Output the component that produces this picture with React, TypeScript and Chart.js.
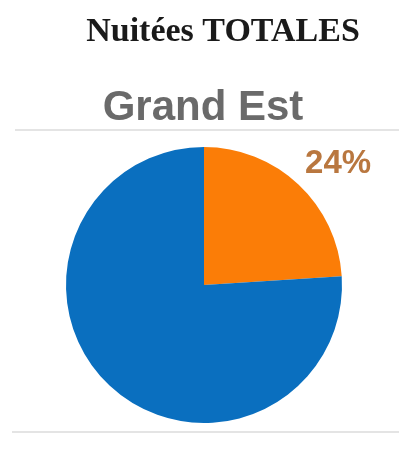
import React, { useEffect, useRef } from "react";
import { Chart, registerables } from "chart.js";

Chart.register(...registerables);

const chartTitle = "Nuitées TOTALES";
const regionName = "Grand Est";
const categories = ["Part A", "Part B"];
const shares = [24, 76];
const sliceColors = ["#fb7d07", "#0a6fbf"];
const shownLabels = ["24%", ""];

const W = 399;
const H = 449;

export default function App() {
  const ref = useRef<HTMLCanvasElement | null>(null);

  useEffect(() => {
    document.body.style.margin = "0";
    const canvas = ref.current;
    if (!canvas) return;

    const decor = {
      id: "decor",
      beforeDraw(chart: any) {
        const ctx = chart.ctx;
        ctx.save();
        ctx.fillStyle = "#ffffff";
        ctx.fillRect(0, 0, W, H);
        ctx.strokeStyle = "#e4e4e4";
        ctx.lineWidth = 2;
        ctx.beginPath();
        ctx.moveTo(15, 130);
        ctx.lineTo(W, 130);
        ctx.moveTo(12, 432);
        ctx.lineTo(W, 432);
        ctx.stroke();
        ctx.textAlign = "center";
        ctx.textBaseline = "alphabetic";
        ctx.fillStyle = "#1a1a1a";
        ctx.font = "bold 34px 'Liberation Serif', serif";
        ctx.fillText(chartTitle, 223, 41);
        ctx.fillStyle = "#6a6a6a";
        ctx.font = "bold 42px 'Liberation Sans', Arial, sans-serif";
        ctx.fillText(regionName, 203, 120);
        ctx.restore();
      },
      afterDatasetsDraw(chart: any) {
        const ctx = chart.ctx;
        const meta = chart.getDatasetMeta(0);
        ctx.save();
        ctx.font = "bold 33px 'Liberation Sans', Arial, sans-serif";
        ctx.textAlign = "center";
        ctx.textBaseline = "middle";
        meta.data.forEach((arc: any, i: number) => {
          const txt = shownLabels[i];
          if (!txt) return;
          const mid = (arc.startAngle + arc.endAngle) / 2;
          const x = arc.x + Math.cos(mid) * arc.outerRadius * 1.42;
          const y = arc.y + Math.sin(mid) * arc.outerRadius * 1.2;
          ctx.fillStyle = "#b9773f";
          ctx.fillText(txt, x, y);
        });
        ctx.restore();
      },
    };

    const chart = new Chart(canvas, {
      type: "pie",
      data: {
        labels: categories,
        datasets: [
          {
            data: shares,
            backgroundColor: sliceColors,
            borderWidth: 0,
          },
        ],
      },
      options: {
        responsive: false,
        animation: false,
        layout: { padding: { left: 66, right: 57, top: 147, bottom: 26 } },
        plugins: {
          legend: { display: false },
          title: { display: false },
          tooltip: { enabled: false },
        },
      },
      plugins: [decor],
    });
    return () => chart.destroy();
  }, []);

  return <canvas ref={ref} width={W} height={H} style={{ display: "block", width: W, height: H }} />;
}
